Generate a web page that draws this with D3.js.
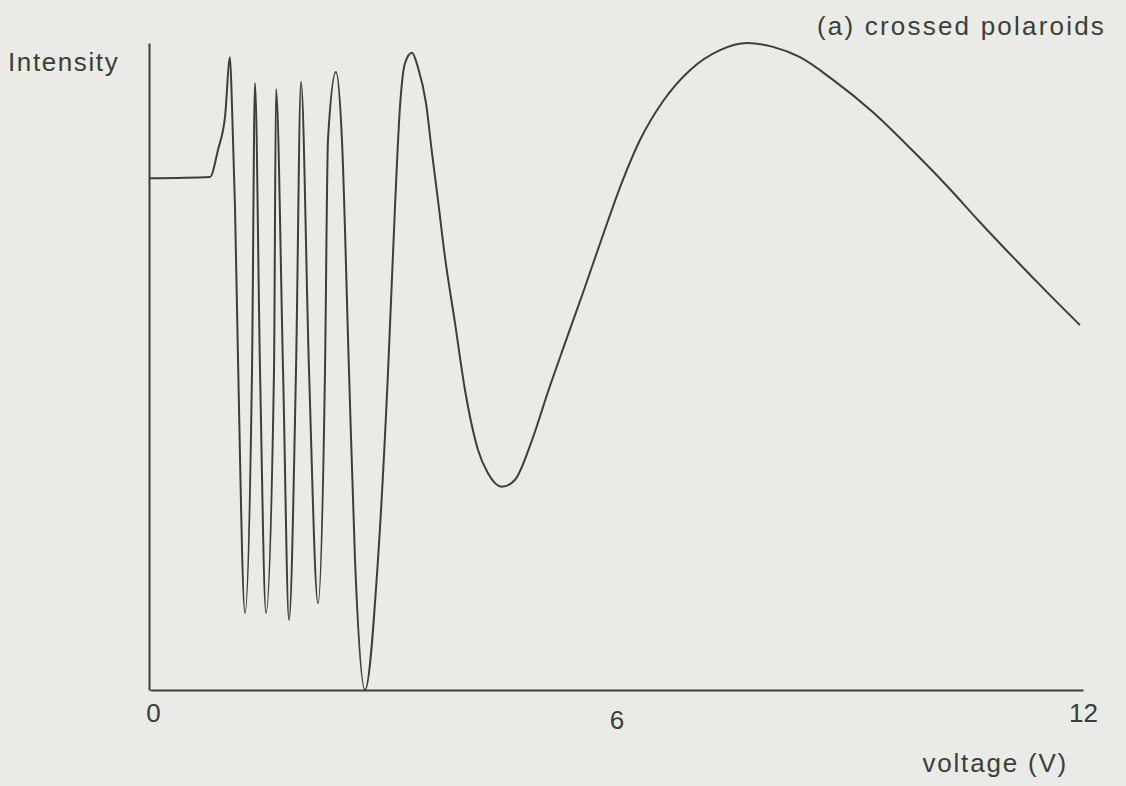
<!DOCTYPE html>
<html>
<head>
<meta charset="utf-8">
<script src="https://cdn.jsdelivr.net/npm/d3@7"></script>
<style>
  html, body { margin: 0; padding: 0; background: #eaeae7; }
  svg { display: block; }
  text { font-family: "Liberation Sans", Arial, sans-serif; fill: #394036; }
</style>
</head>
<body>
<svg id="chart" width="1126" height="786"></svg>
<script>
// Transmitted intensity between crossed polaroids versus applied voltage
const voltage = [
  0.000, 0.772, 0.875, 0.965, 1.029, 1.055, 1.093, 1.132, 1.222, 1.312,
  1.350, 1.415, 1.492, 1.595, 1.621, 1.711, 1.788, 1.878, 1.942, 2.045,
  2.161, 2.251, 2.289, 2.392, 2.469, 2.559, 2.637, 2.765, 2.932, 3.061,
  3.151, 3.215, 3.280, 3.370, 3.447, 3.550, 3.627, 3.704, 3.794, 3.923,
  4.051, 4.219, 4.347, 4.527, 4.695, 4.913, 5.119, 5.338, 5.569, 5.814,
  6.071, 6.302, 6.598, 6.945, 7.331, 7.678, 8.013, 8.360, 8.785, 9.299,
  9.814, 10.251, 10.675, 11.100, 11.537, 11.961
];
const intensity = [
  0.791, 0.793, 0.835, 0.886, 0.978, 0.901, 0.747, 0.510, 0.119, 0.495,
  0.938, 0.495, 0.119, 0.495, 0.929, 0.495, 0.108, 0.495, 0.940, 0.495,
  0.134, 0.495, 0.850, 0.955, 0.850, 0.495, 0.201, 0.000, 0.201, 0.490,
  0.747, 0.901, 0.969, 0.985, 0.962, 0.907, 0.830, 0.757, 0.669, 0.567,
  0.464, 0.371, 0.335, 0.314, 0.325, 0.386, 0.461, 0.536, 0.614, 0.699,
  0.785, 0.850, 0.910, 0.958, 0.989, 1.000, 0.994, 0.978, 0.943, 0.893,
  0.833, 0.779, 0.723, 0.669, 0.615, 0.564
];
const xTicks = [0, 6, 12];
const xTitle = "voltage (V)";
const yTitle = "Intensity";
const panelTitle = "(a) crossed polaroids";

const svg = d3.select("#chart");
const x = d3.scaleLinear().domain([0, 12]).range([150, 1083]);
const y = d3.scaleLinear().domain([0, 1]).range([690, 43]);

const ink = "#3a3f37";

// x axis: baseline with three labelled voltages
const gx = svg.append("g")
  .attr("transform", `translate(0,${y(0)})`)
  .call(d3.axisBottom(x).tickValues(xTicks).tickSize(0).tickPadding(14)
    .tickFormat(d3.format("d")));
gx.select(".domain").attr("stroke", ink).attr("stroke-width", 2);
gx.selectAll("text").attr("font-size", 26).attr("font-family", null)
  .style("fill", "#394036");
gx.selectAll(".tick").filter(d => d === 0).select("text").attr("dx", 3);
gx.selectAll(".tick").filter(d => d === 6).select("text").attr("dy", "0.95em");

// y axis: plain vertical line
const gy = svg.append("g")
  .attr("transform", `translate(${x(0) - 1},0)`)
  .call(d3.axisLeft(y).tickValues([]).tickSize(0));
gy.select(".domain").attr("stroke", ink).attr("stroke-width", 2);

// intensity trace
const pts = voltage.map((v, i) => [v, intensity[i]]);
const line = d3.line()
  .x(d => x(d[0]))
  .y(d => y(d[1]))
  .curve(d3.curveMonotoneX);
svg.append("path")
  .datum(pts)
  .attr("d", line)
  .attr("fill", "none")
  .attr("stroke", "#3b3f38")
  .attr("stroke-width", 2)
  .attr("stroke-linejoin", "round");

// labels
svg.append("text").attr("x", 8).attr("y", 71)
  .attr("font-size", 26).attr("letter-spacing", 1.6).text(yTitle);
svg.append("text").attr("x", 1068).attr("y", 772).attr("text-anchor", "end")
  .attr("font-size", 26).attr("letter-spacing", 1.8).text(xTitle);
svg.append("text").attr("x", 1106).attr("y", 35).attr("text-anchor", "end")
  .attr("font-size", 26).attr("letter-spacing", 2.2).text(panelTitle);
</script>
</body>
</html>
